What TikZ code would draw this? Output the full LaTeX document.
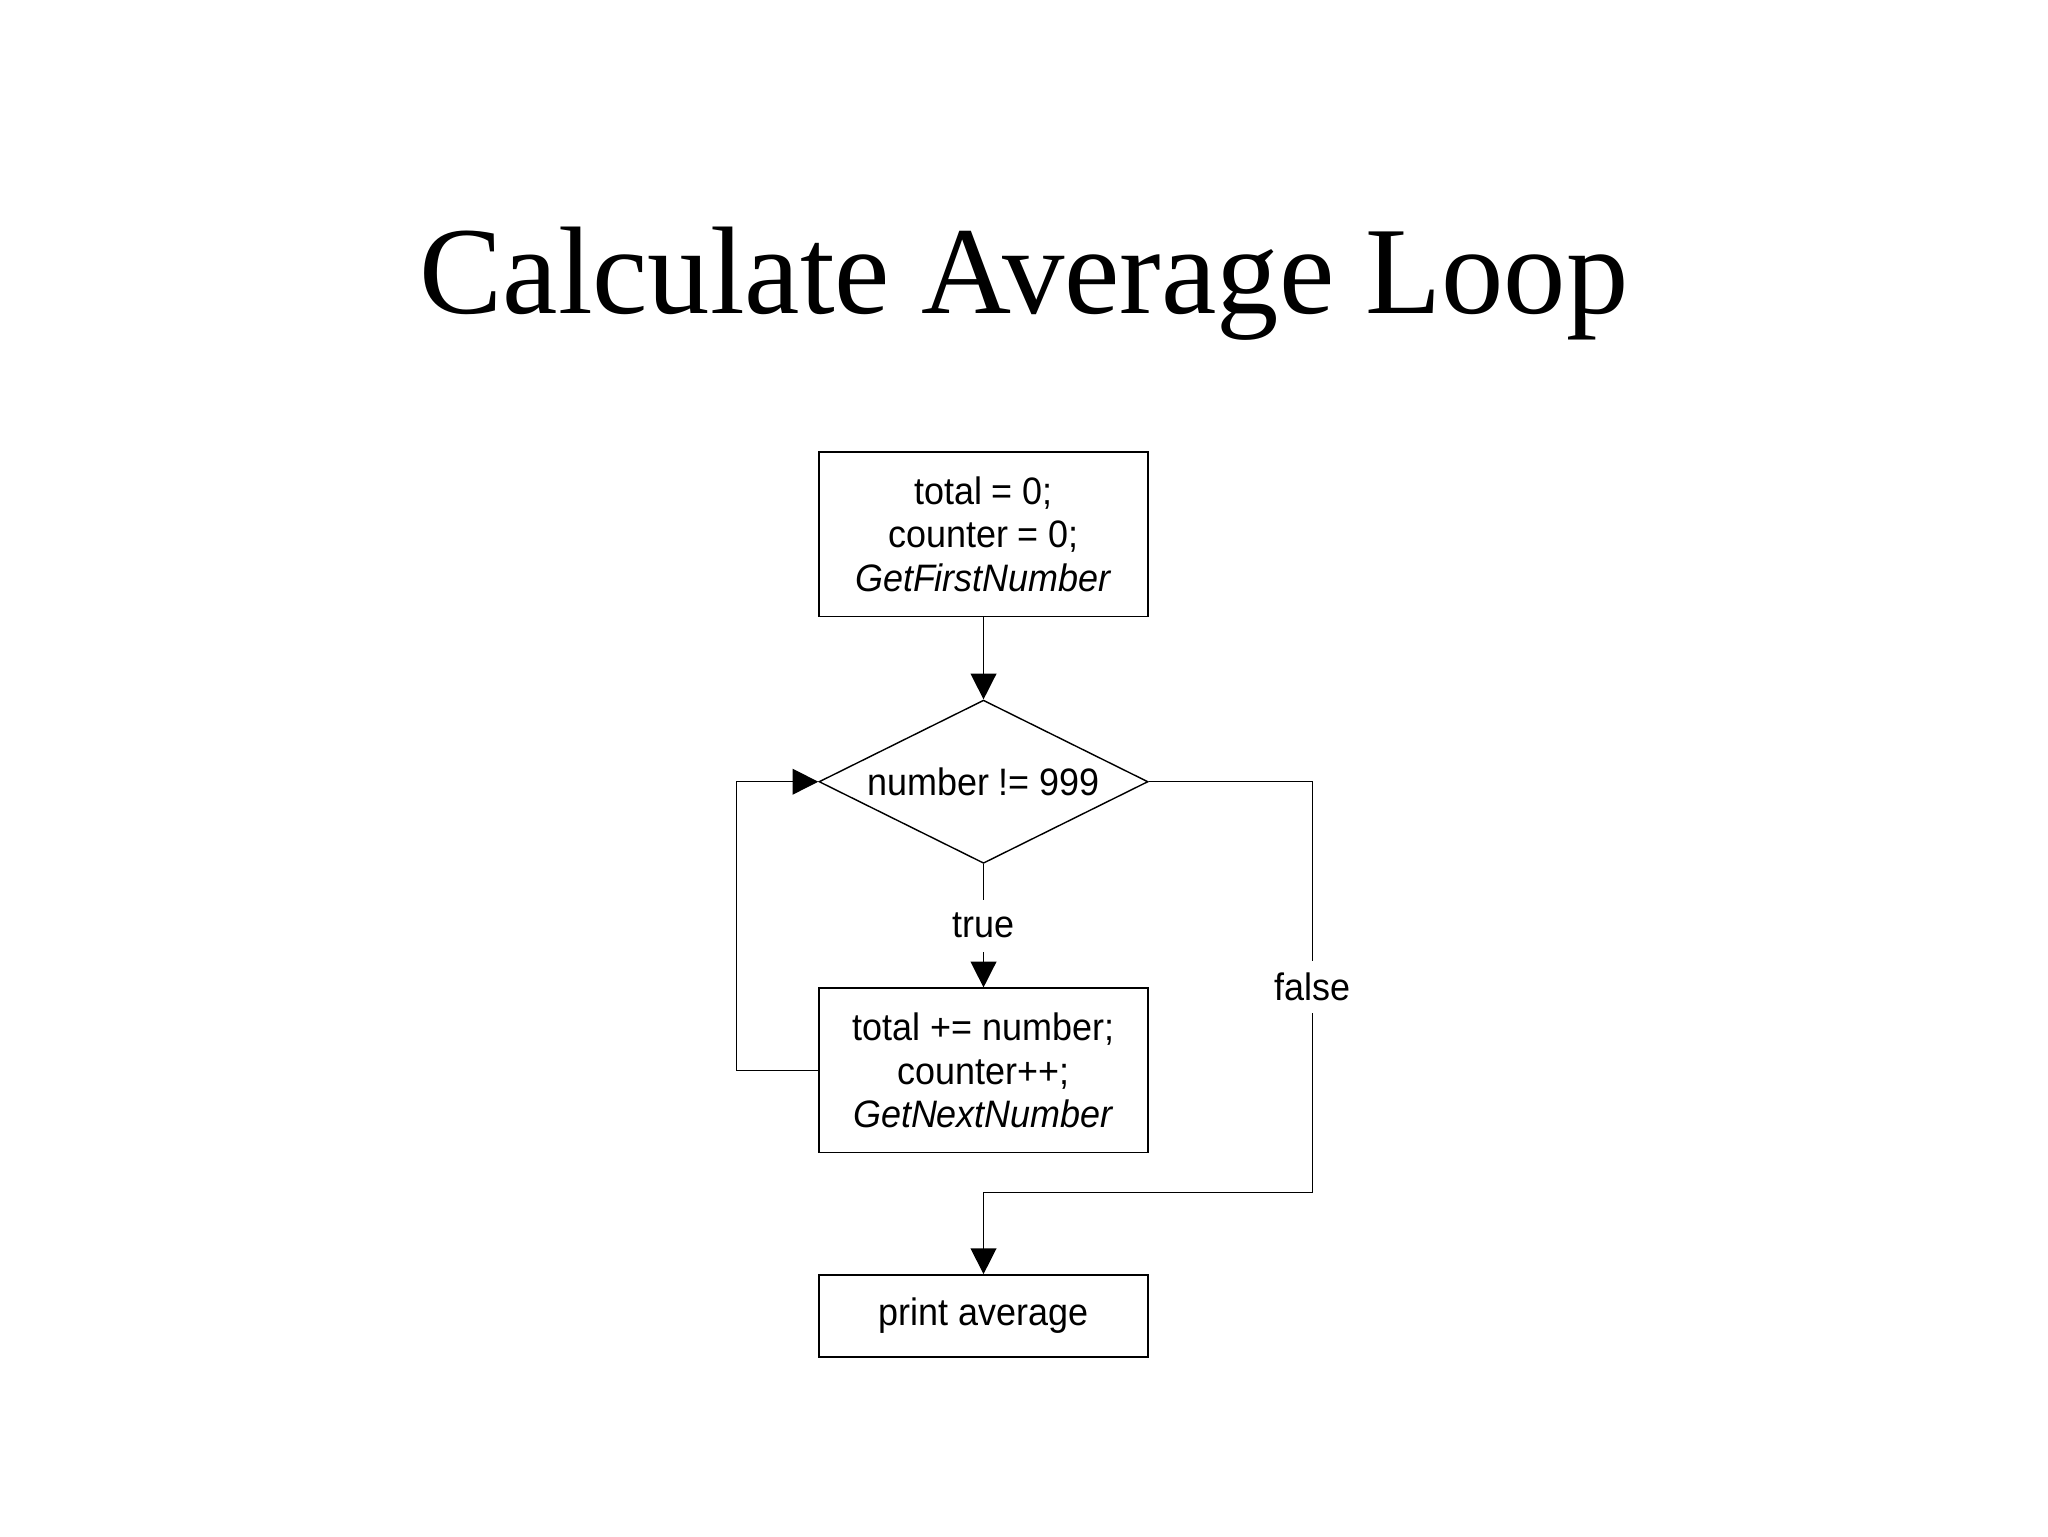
\documentclass[tikz,border=0pt]{standalone}
\usepackage{fontspec}
\setmainfont{Liberation Serif}
\newfontfamily\arialish{Liberation Sans}[FakeStretch=0.94]
\usetikzlibrary{shapes.geometric,arrows.meta}
\begin{document}
\begin{tikzpicture}[x=0.016199cm,y=-0.016199cm,
  every node/.style={font=\arialish\fontsize{13.5}{15.4}\selectfont},
  box/.style={draw, line width=0.5pt, rectangle, minimum width=4.082cm, minimum height=2.041cm, align=center, inner sep=0pt},
  smallbox/.style={box, minimum height=1.02cm},
  decision/.style={draw, line width=0.5pt, diamond, shape aspect=2, minimum width=4.082cm, minimum height=2.025cm, inner sep=0pt, align=center},
  arr/.style={-{Triangle[length=0.32cm,width=0.32cm]}, line width=0.5pt},
  conn/.style={line width=0.5pt},
  lbl/.style={fill=white, inner sep=0pt, minimum height=0.65cm}
]
\useasboundingbox[fill=white] (0,0) rectangle (1568,1176);
\node[anchor=base, font=\rmfamily\fontsize{44}{52}\selectfont] (title) at (784,240) {Calculate Average Loop};
\node[box] (b1) at (753,409) {total = 0;\\counter = 0;\\\textit{GetFirstNumber}};
\node[decision] (d) at (753,598.5) {number != 999};
\node[box] (b2) at (753,819.5) {total += number;\\counter++;\\\textit{GetNextNumber}};
\node[smallbox] (b3) at (753,1007.5) {print average};
\coordinate (lp) at (564,819.5);
\coordinate (fr) at (1005,598.5);
\coordinate (fb) at (1005,913);
\coordinate (fl) at (753,913);
\draw[arr] (b1.south) -- (d.north);
\draw[arr] (d.south) -- node[lbl] {true} (b2.north);
\draw[arr] (b2.west) -- (lp) |- (d.west);
\draw[arr] (d.east) -- (fr) -- node[lbl] {false} (fb) -- (fl) -- (b3.north);
\end{tikzpicture}
\end{document}
